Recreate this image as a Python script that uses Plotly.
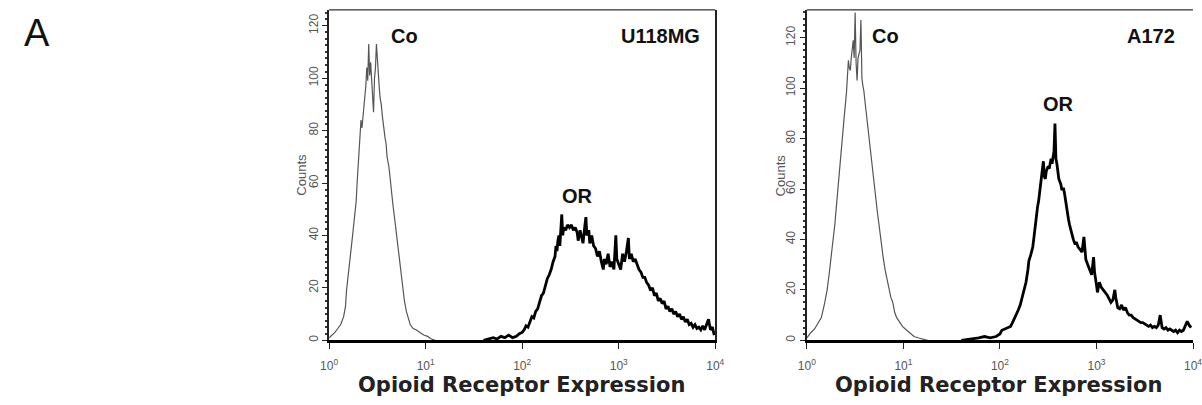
import plotly.graph_objects as go

# Flow cytometry histograms: opioid receptor (OR) staining vs. isotype control (Co)
# Positions are channel positions in decades (log10 of fluorescence intensity).

# --- U118MG ---
u118_co_dec = [0.00, 0.03, 0.06, 0.09, 0.12, 0.15, 0.17, 0.18, 0.20, 0.22, 0.24, 0.26,
               0.28, 0.29, 0.30, 0.31, 0.32, 0.33, 0.34, 0.35, 0.36, 0.37, 0.38, 0.39,
               0.40, 0.41, 0.42, 0.43, 0.44, 0.45, 0.46, 0.47, 0.48, 0.49, 0.50, 0.51,
               0.52, 0.53, 0.54, 0.55, 0.56, 0.57, 0.58, 0.59, 0.60, 0.62, 0.63, 0.65,
               0.66, 0.68, 0.70, 0.72, 0.74, 0.76, 0.78, 0.80, 0.82, 0.84, 0.87, 0.90,
               0.94, 0.98, 1.02, 1.06, 1.10]
u118_co_cnt = [1, 2, 3, 4.5, 6, 9, 13, 19, 25, 32, 39, 46,
               53, 60, 67, 75, 80, 84, 81, 85, 88, 92, 97, 104,
               99, 113, 101, 106, 98, 93, 87, 100, 104, 113, 106, 98,
               96, 92, 90, 86, 82, 79, 77, 75, 70, 66, 62, 56,
               52, 46, 40, 34, 27, 20, 15, 11, 8, 6, 4.5, 4,
               3, 2, 1.5, 0.5, 0]

u118_or_dec = [1.60, 1.65, 1.70, 1.74, 1.78, 1.82, 1.86, 1.90, 1.94, 1.97, 2.00, 2.02,
               2.04, 2.06, 2.08, 2.10, 2.12, 2.14, 2.16, 2.18, 2.20, 2.22, 2.24, 2.26,
               2.28, 2.30, 2.32, 2.34, 2.35, 2.36, 2.37, 2.38, 2.39, 2.40, 2.41, 2.42,
               2.43, 2.45, 2.47, 2.49, 2.51, 2.53, 2.55, 2.57, 2.58, 2.60, 2.62, 2.63,
               2.65, 2.66, 2.67, 2.69, 2.70, 2.72, 2.74, 2.76, 2.78, 2.80, 2.82, 2.84,
               2.85, 2.87, 2.89, 2.91, 2.93, 2.95, 2.97, 2.98, 3.00, 3.02, 3.04, 3.06,
               3.08, 3.10, 3.11, 3.13, 3.15, 3.17, 3.19, 3.21, 3.23, 3.25, 3.27, 3.29,
               3.31, 3.33, 3.35, 3.37, 3.39, 3.41, 3.43, 3.45, 3.47, 3.49, 3.51, 3.53,
               3.55, 3.57, 3.59, 3.61, 3.63, 3.65, 3.67, 3.69, 3.71, 3.73, 3.75, 3.77,
               3.79, 3.81, 3.83, 3.85, 3.87, 3.89, 3.91, 3.93, 3.95, 3.97, 3.99]
u118_or_cnt = [0, 0.5, 1, 0.5, 1.5, 1, 2, 1, 1.5, 2.5, 3, 4,
               5.5, 5, 7, 9, 8.5, 11, 12, 14.5, 17, 18, 21, 23.5,
               25, 27, 30, 32, 36, 34, 38, 40, 36, 41, 48, 40,
               43, 42, 44, 43, 44, 42, 43, 41, 38, 42, 39, 37,
               44, 47, 40, 42, 37, 40, 36, 35, 32, 34, 30, 27,
               31, 29, 33, 28, 30, 27, 40, 31, 29, 27, 33, 30,
               34, 39, 31, 33, 30, 31, 29, 27, 26, 24, 24, 22,
               21, 19, 20, 17, 18, 15, 16, 14, 15, 12, 13, 11,
               12, 10, 11, 9, 10, 8, 9, 7, 8, 6, 6.5, 5,
               6, 4.5, 5, 4, 5.5, 4, 6, 8, 4, 5, 2]

# --- A172 ---
a172_co_dec = [0.00, 0.04, 0.08, 0.12, 0.15, 0.18, 0.21, 0.23, 0.25, 0.27, 0.29, 0.31,
               0.33, 0.35, 0.37, 0.39, 0.41, 0.42, 0.43, 0.44, 0.45, 0.46, 0.47, 0.48,
               0.49, 0.50, 0.51, 0.52, 0.53, 0.55, 0.56, 0.57, 0.58, 0.59, 0.61, 0.63,
               0.65, 0.67, 0.69, 0.71, 0.73, 0.75, 0.77, 0.79, 0.81, 0.83, 0.85, 0.87,
               0.89, 0.91, 0.93, 0.96, 0.99, 1.02, 1.05, 1.08, 1.11, 1.15, 1.20, 1.25]
a172_co_cnt = [1, 3, 4.5, 7, 9, 14, 20, 26, 32, 38, 46, 55,
               64, 75, 83, 90, 98, 106, 111, 108, 107, 112, 116, 119,
               112, 130, 110, 103, 112, 115, 127, 104, 101, 99, 92, 85,
               77, 70, 64, 58, 51, 45, 38, 33, 28, 24, 20, 17,
               15, 11, 9, 7, 5.5, 4.5, 3.5, 2.5, 1.5, 1, 0.5, 0]

a172_or_dec = [1.60, 1.70, 1.78, 1.84, 1.90, 1.96, 2.00, 2.02, 2.05, 2.08, 2.11, 2.13,
               2.15, 2.17, 2.19, 2.21, 2.23, 2.25, 2.27, 2.29, 2.30, 2.32, 2.34, 2.35,
               2.36, 2.37, 2.38, 2.39, 2.40, 2.41, 2.42, 2.43, 2.44, 2.45, 2.46, 2.47,
               2.48, 2.49, 2.50, 2.51, 2.52, 2.53, 2.54, 2.55, 2.56, 2.57, 2.58, 2.59,
               2.60, 2.61, 2.62, 2.63, 2.64, 2.66, 2.67, 2.68, 2.69, 2.70, 2.71, 2.72,
               2.73, 2.74, 2.76, 2.78, 2.79, 2.81, 2.83, 2.85, 2.87, 2.88, 2.89, 2.91,
               2.93, 2.95, 2.97, 2.98, 3.00, 3.01, 3.03, 3.05, 3.07, 3.09, 3.11, 3.13,
               3.15, 3.17, 3.19, 3.20, 3.22, 3.24, 3.26, 3.28, 3.30, 3.32, 3.34, 3.36,
               3.38, 3.40, 3.42, 3.44, 3.46, 3.48, 3.50, 3.52, 3.54, 3.56, 3.58, 3.60,
               3.62, 3.64, 3.66, 3.68, 3.70, 3.72, 3.74, 3.76, 3.78, 3.80, 3.82, 3.84,
               3.86, 3.88, 3.90, 3.92, 3.94, 3.96, 3.98]
a172_or_cnt = [0, 0.5, 1, 1.5, 1, 1.5, 2.5, 4, 4.5, 5, 5.5, 7,
               8.5, 10, 12, 14, 17, 20, 23, 28, 31.5, 34, 37, 40,
               44, 47, 50, 53, 55, 58, 62, 64, 66, 71, 65, 64,
               67, 68, 69, 68, 71, 72, 70, 74, 75, 86, 72, 70,
               66, 64, 63, 62, 60, 60, 58, 55, 53, 50, 48, 46,
               44, 43, 40, 38, 39, 37, 36, 35, 41, 34, 32, 30,
               28, 26, 33, 27, 22, 19, 23, 21, 20, 19, 18, 16.5,
               15, 16, 20, 17, 13, 12.5, 14, 12, 13, 11, 10, 10,
               9, 8.5, 8, 7.5, 7, 7, 6.5, 6, 5.5, 6, 5, 5.5,
               5, 6, 10, 5, 4.5, 5, 4, 4.5, 4, 3.5, 4, 3,
               4, 3.5, 4, 6, 7.5, 6, 5]

decade_vals = [1, 10, 100, 1000, 10000]
decade_text = ["10<sup>0</sup>", "10<sup>1</sup>", "10<sup>2</sup>",
               "10<sup>3</sup>", "10<sup>4</sup>"]

W, H = 1202, 405


def px_x(p):
    return p / W


def px_y(p):
    return 1 - p / H


minor_log = [k * 10 ** d for d in range(4) for k in range(2, 10)]

fig = go.Figure()

panels = [
    dict(co=(u118_co_dec, u118_co_cnt), orr=(u118_or_dec, u118_or_cnt),
         dom=(325, 717), ymax=126, right_line=True),
    dict(co=(a172_co_dec, a172_co_cnt), orr=(a172_or_dec, a172_or_cnt),
         dom=(810, 1202), ymax=131, right_line=False),
]

y_dom = [px_y(342), px_y(10)]
tick_font = dict(family="Liberation Sans, Arial", size=12, color="#555")

for i, p in enumerate(panels):
    sx = "" if i == 0 else "2"
    co_d, co_c = p["co"]
    or_d, or_c = p["orr"]
    xa, ya = "x" + sx, "y" + sx
    fig.add_trace(go.Scatter(
        x=[10 ** v for v in co_d], y=co_c, mode="lines",
        line=dict(color="#555555", width=1.2),
        xaxis=xa, yaxis=ya, hoverinfo="skip"))
    fig.add_trace(go.Scatter(
        x=[10 ** v for v in or_d], y=or_c, mode="lines",
        line=dict(color="#000000", width=2.8),
        xaxis=xa, yaxis=ya, hoverinfo="skip"))

    dom = [px_x(p["dom"][0]), px_x(p["dom"][1])]
    minor_axis = "xaxis" + str(3 + i)
    fig.update_layout(**{
        "xaxis" + sx: dict(
            domain=dom, anchor=ya, type="log", range=[0, 4],
            tickvals=decade_vals, ticktext=decade_text,
            ticks="outside", ticklen=6, tickwidth=1.2, tickcolor="#222",
            ticklabelstandoff=7, ticklabeloverflow="allow", tickfont=tick_font,
            showgrid=False, zeroline=False, showline=True,
            linecolor="#000", linewidth=2.5, mirror=False,
        ),
        # minor log ticks between decades
        minor_axis: dict(
            domain=dom, anchor=ya, overlaying=xa, type="log", range=[0, 4],
            tickvals=minor_log, showticklabels=False,
            ticks="outside", ticklen=3, tickwidth=1.2, tickcolor="#333",
            showgrid=False, zeroline=False, showline=False,
        ),
        "yaxis" + sx: dict(
            domain=y_dom, anchor=xa, range=[0, p["ymax"]],
            tickmode="linear", tick0=0, dtick=20, tickangle=-90,
            ticks="outside", ticklen=5, tickwidth=1.2, tickcolor="#222",
            minor=dict(tickmode="linear", tick0=0, dtick=2.5, ticks="outside",
                       ticklen=2.5, tickwidth=1.5, tickcolor="#333"),
            tickfont=tick_font,
            showgrid=False, zeroline=False, showline=True,
            linecolor="#222", linewidth=1.5,
            mirror=p["right_line"],
        ),
    })

    # top frame line
    fig.add_shape(type="line", xref="paper", yref="paper",
                  x0=dom[0], x1=dom[1], y0=y_dom[1], y1=y_dom[1],
                  line=dict(color="#333", width=1.3))

label_font = dict(family="Liberation Sans, Arial", size=20, color="#111")


def add_label(text, x, y, xanchor="center", font=label_font, angle=0):
    fig.add_annotation(text=text, x=px_x(x), y=px_y(y), xref="paper", yref="paper",
                       xanchor=xanchor, yanchor="middle", showarrow=False,
                       font=font, textangle=angle)


# panel labels
add_label("<b>Co</b>", 402, 36)
add_label("<b>U118MG</b>", 704, 36, xanchor="right")
add_label("<b>OR</b>", 577, 197)
add_label("<b>Co</b>", 890, 36)
add_label("<b>A172</b>", 1186, 36, xanchor="right")
add_label("<b>OR</b>", 1065, 105)

# axis titles
title_font = dict(family="DejaVu Sans, Liberation Sans", size=21, color="#222")
add_label("<b>Opioid Receptor Expression</b>", 520, 387, font=title_font)
add_label("<b>Opioid Receptor Expression</b>", 1005, 387, font=title_font)
count_font = dict(family="Liberation Sans, Arial", size=13, color="#555")
add_label("Counts", 297, 176, font=count_font, angle=-90)
add_label("Counts", 783, 176, font=count_font, angle=-90)

# figure panel letter
add_label("A", 28, 33, font=dict(family="Liberation Sans, Arial", size=38, color="#111"))

fig.update_layout(width=W, height=H, margin=dict(l=0, r=0, t=0, b=0),
                  paper_bgcolor="white", plot_bgcolor="white", showlegend=False)

fig.write_html("out.html")
